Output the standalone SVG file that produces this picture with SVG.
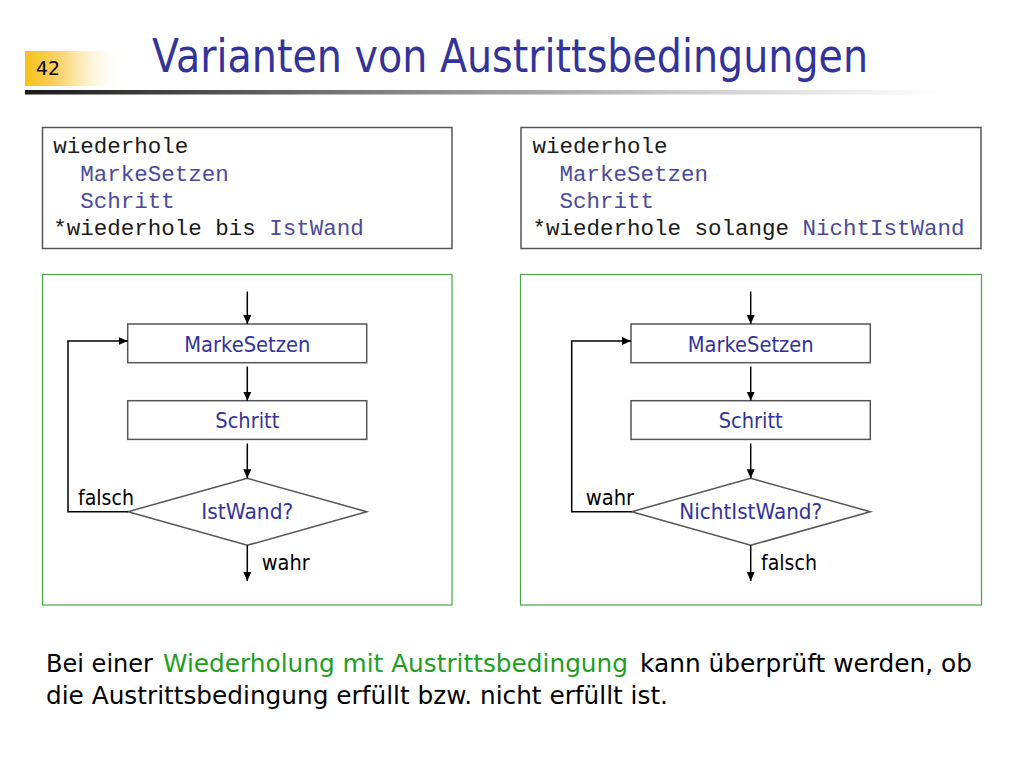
<svg xmlns="http://www.w3.org/2000/svg" width="1024" height="768" viewBox="0 0 1024 768">
<defs>
<linearGradient id="gold" x1="0" y1="0" x2="1" y2="0">
<stop offset="0" stop-color="#F7C11A"/>
<stop offset="0.35" stop-color="#FAD36A"/>
<stop offset="1" stop-color="#FFFFFF" stop-opacity="0"/>
</linearGradient>
<linearGradient id="bar" x1="0" y1="0" x2="1" y2="0">
<stop offset="0" stop-color="#1a1a1a"/>
<stop offset="0.35" stop-color="#777"/>
<stop offset="0.7" stop-color="#c8c8c8"/>
<stop offset="1" stop-color="#ffffff"/>
</linearGradient>
<marker id="ah" markerWidth="10" markerHeight="10" refX="9" refY="4" orient="auto" markerUnits="userSpaceOnUse">
<path d="M0,0 L9,4 L0,8 Z" fill="#000"/>
</marker>
</defs>
<style>
.title{font-family:"DejaVu Sans","Liberation Sans",sans-serif;fill:#333399;font-size:46px}
.code{font-family:"Liberation Mono","Courier New",monospace;font-size:22.5px;fill:#1a1a1a}
.kw{fill:#4a4a9c}
.codebox{fill:#fff;stroke:#555;stroke-width:1.5}
.panel{fill:#fff;stroke:#44AA44;stroke-width:1.2}
.node{fill:#fff;stroke:#555;stroke-width:1.5}
.nt{font-family:"DejaVu Sans","Liberation Sans",sans-serif;font-size:21px;fill:#333399;text-anchor:middle}
.lbl{font-family:"DejaVu Sans","Liberation Sans",sans-serif;font-size:21px;fill:#000}
.conn{fill:none;stroke:#000;stroke-width:1.5;marker-end:url(#ah)}
.line{fill:none;stroke:#000;stroke-width:1.5}
.body{font-family:"DejaVu Sans","Liberation Sans",sans-serif;font-size:25px;fill:#000}
.green{fill:#1E9E1E}
</style>
<rect width="1024" height="768" fill="#fff"/>

<!-- header -->
<rect x="25" y="51" width="100" height="35" fill="url(#gold)"/>
<text x="36" y="75" font-family="DejaVu Sans, Liberation Sans, sans-serif" font-size="20" fill="#000" textLength="24" lengthAdjust="spacingAndGlyphs">42</text>
<text class="title" x="152" y="71.5" textLength="716" lengthAdjust="spacingAndGlyphs">Varianten von Austrittsbedingungen</text>
<rect x="25" y="90" width="915" height="4.5" fill="url(#bar)"/>

<!-- code boxes -->
<g id="code-left">
<rect class="codebox" x="42.5" y="127.5" width="409.5" height="121"/>
<text class="code" x="53.3" y="153.3">wiederhole</text>
<text class="code kw" x="80.3" y="181">MarkeSetzen</text>
<text class="code kw" x="80.3" y="208.3">Schritt</text>
<text class="code" x="53.3" y="235">*wiederhole bis <tspan class="kw">IstWand</tspan></text>
</g>
<g id="code-right">
<rect class="codebox" x="521" y="127.5" width="460" height="121"/>
<text class="code" x="532.5" y="153.3">wiederhole</text>
<text class="code kw" x="559.5" y="181">MarkeSetzen</text>
<text class="code kw" x="559.5" y="208.3">Schritt</text>
<text class="code" x="532.5" y="235">*wiederhole solange <tspan class="kw">NichtIstWand</tspan></text>
</g>

<!-- panels -->
<rect id="panel-left" class="panel" x="42.5" y="274.5" width="409.5" height="330.5"/>
<rect id="panel-right" class="panel" x="520.5" y="274.5" width="461" height="330.5"/>

<!-- left flowchart nodes -->
<g id="l-marke">
<rect class="node" x="127.7" y="324" width="239" height="38.7"/>
<text class="nt" x="247.3" y="351.7" textLength="126" lengthAdjust="spacingAndGlyphs">MarkeSetzen</text>
</g>
<g id="l-schritt">
<rect class="node" x="127.7" y="400.7" width="239" height="38.7"/>
<text class="nt" x="247.3" y="428.3" textLength="64" lengthAdjust="spacingAndGlyphs">Schritt</text>
</g>
<g id="l-cond">
<polygon class="node" points="247.3,478.3 366.7,511.7 247.3,545.3 128,511.7"/>
<text class="nt" x="247.3" y="519.3" textLength="92" lengthAdjust="spacingAndGlyphs">IstWand?</text>
</g>

<!-- right flowchart nodes -->
<g id="r-marke">
<rect class="node" x="631" y="324" width="239.3" height="38.7"/>
<text class="nt" x="750.7" y="351.7" textLength="126" lengthAdjust="spacingAndGlyphs">MarkeSetzen</text>
</g>
<g id="r-schritt">
<rect class="node" x="631" y="400.7" width="239.3" height="38.7"/>
<text class="nt" x="750.7" y="428.3" textLength="64" lengthAdjust="spacingAndGlyphs">Schritt</text>
</g>
<g id="r-cond">
<polygon class="node" points="750.7,478.3 870.3,511.7 750.7,545.3 631.7,511.7"/>
<text class="nt" x="750.7" y="519.3" textLength="143" lengthAdjust="spacingAndGlyphs">NichtIstWand?</text>
</g>

<!-- connectors -->
<g id="connectors">
<line class="conn" x1="247.3" y1="291.5" x2="247.3" y2="324"/>
<line class="conn" x1="247.3" y1="366.5" x2="247.3" y2="400.7"/>
<line class="conn" x1="247.3" y1="443.5" x2="247.3" y2="478.3"/>
<line class="conn" x1="247.3" y1="545.3" x2="247.3" y2="581"/>
<polyline class="conn" points="128,511.7 68,511.7 68,341 127.7,341"/>
<text class="lbl" x="78" y="505" textLength="56" lengthAdjust="spacingAndGlyphs">falsch</text>
<text class="lbl" x="261.7" y="570" textLength="48" lengthAdjust="spacingAndGlyphs">wahr</text>

<line class="conn" x1="750.7" y1="291.5" x2="750.7" y2="324"/>
<line class="conn" x1="750.7" y1="366.5" x2="750.7" y2="400.7"/>
<line class="conn" x1="750.7" y1="443.5" x2="750.7" y2="478.3"/>
<line class="conn" x1="750.7" y1="545.3" x2="750.7" y2="581"/>
<polyline class="conn" points="631.7,511.7 571.7,511.7 571.7,341 631,341"/>
<text class="lbl" x="585.7" y="505" textLength="48.5" lengthAdjust="spacingAndGlyphs">wahr</text>
<text class="lbl" x="761" y="570" textLength="56" lengthAdjust="spacingAndGlyphs">falsch</text>
</g>

<!-- body text -->
<text class="body" x="46" y="671.7" textLength="107" lengthAdjust="spacingAndGlyphs">Bei einer</text>
<text class="body green" x="163" y="671.7" textLength="465" lengthAdjust="spacingAndGlyphs">Wiederholung mit Austrittsbedingung</text>
<text class="body" x="640" y="671.7" textLength="332" lengthAdjust="spacingAndGlyphs">kann überprüft werden, ob</text>
<text class="body" x="46" y="704" textLength="622" lengthAdjust="spacingAndGlyphs">die Austrittsbedingung erfüllt bzw. nicht erfüllt ist.</text>
</svg>
